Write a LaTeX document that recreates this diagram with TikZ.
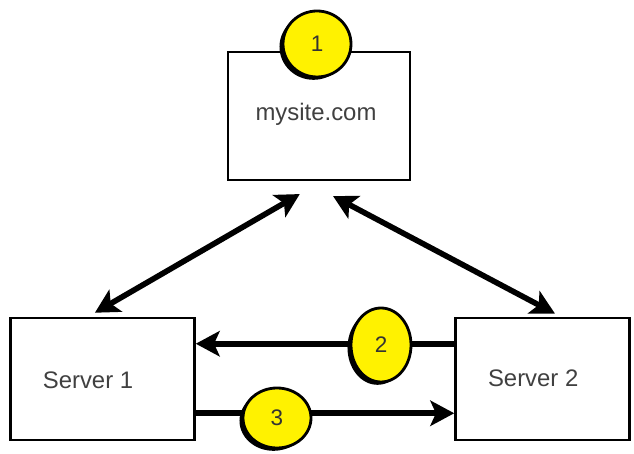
\documentclass[tikz,border=0pt]{standalone}
\usepackage{fontspec}
\setmainfont{Liberation Sans}
\usetikzlibrary{arrows.meta,shapes.geometric,shadows}
\tikzset{
%Define standard arrow tip
>={Stealth[length=17pt,width=18pt,inset=4pt]},
%Define styles for boxes, labels, badges and links
box/.style={draw, line width=1.8pt},
label text/.style={font=\fontsize{17}{20}\selectfont, text=black!75},
badge/.style={ellipse, draw, fill=yellow, line width=2pt, inner sep=0pt,
  font=\fontsize{16}{19}\selectfont, text=black!80,
  drop shadow={shadow xshift=-2.5pt, shadow yshift=-2pt, fill=black, opacity=1}},
link/.style={line width=4pt},
}

\begin{document}
\begin{tikzpicture}
    % Frame of the picture
    \useasboundingbox (0,0) rectangle (15.85,11.35);

    % Let us define some coordinates
    \path
    coordinate (sitec) at (7.975,8.45)
    coordinate (s1c) at (2.5625,1.875)
    coordinate (s2c) at (13.5625,1.875);

    % Boxes
    \node[box, minimum width=4.55cm, minimum height=3.2cm] (site) at (sitec) {};
    \node[label text] (sitetext) at (7.9,8.5) {mysite.com};
    \node[box, minimum width=4.6cm, minimum height=3.05cm] (s1) at (s1c) {};
    \node[label text] (s1text) at (2.2,1.85) {Server 1};
    \node[box, minimum width=4.35cm, minimum height=3.05cm] (s2) at (s2c) {};
    \node[label text] (s2text) at (13.33,1.9) {Server 2};

    % Links
    \draw[link, <->] ([xshift=-0.48cm,yshift=-0.32cm]site.south)
      -- ([xshift=-0.19cm,yshift=0.1cm]s1.north);
    \draw[link, <->] ([xshift=0.35cm,yshift=-0.37cm]site.south)
      -- ([xshift=0.31cm,yshift=0.08cm]s2.north);
    \draw[link, ->] ([yshift=-0.675cm]s2.north west)
      -- ([yshift=-0.675cm]s1.north east);
    \draw[link, ->] ([yshift=0.7cm]s1.south east)
      -- ([yshift=0.7cm]s2.south west);

    % Numbered badges
    \node[badge, minimum width=1.7cm, minimum height=1.65cm] (b1) at (7.925,10.25) {1};
    \node[badge, minimum width=1.5cm, minimum height=1.85cm] (b2) at (9.525,2.725) {2};
    \node[badge, minimum width=1.7cm, minimum height=1.5cm] (b3) at (6.925,0.9) {3};
\end{tikzpicture}
\end{document}
